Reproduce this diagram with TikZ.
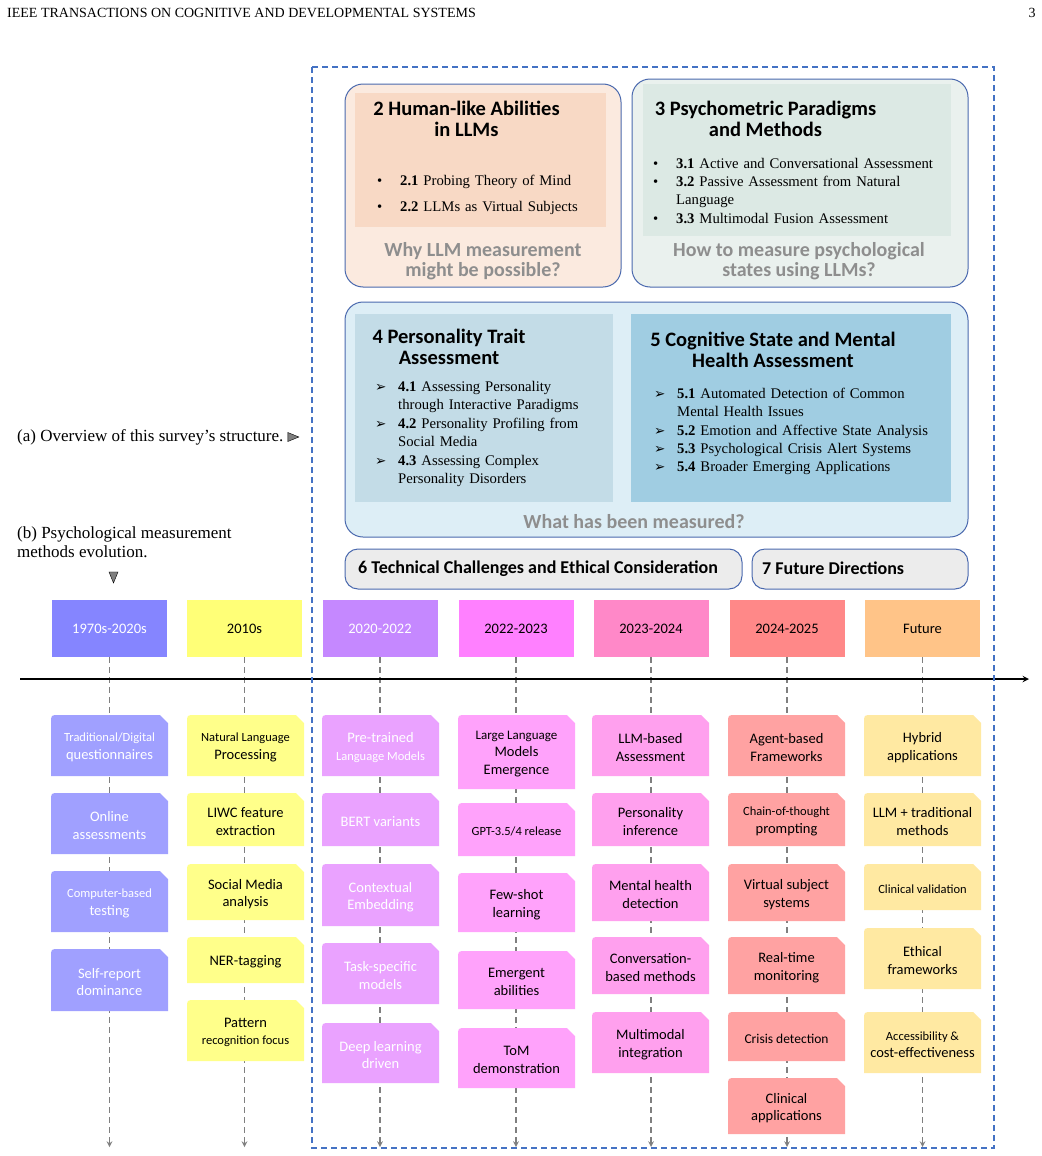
\documentclass[tikz,border=0pt]{standalone}
\usepackage{fontspec}
\setmainfont{Liberation Serif}
\setsansfont{Carlito}
\newfontfamily\dingfont{DejaVu Sans}
\usepackage{xcolor}
\usetikzlibrary{shapes,arrows,positioning,calc}

\definecolor{panelblue}{HTML}{4A69AE}
\definecolor{frameblue}{HTML}{4472C4}
\definecolor{peachOut}{HTML}{FBEADF}
\definecolor{peachIn}{HTML}{F8D9C5}
\definecolor{mintOut}{HTML}{EAF1EE}
\definecolor{mintIn}{HTML}{DCE9E4}
\definecolor{skyOut}{HTML}{DDEEF6}
\definecolor{traitIn}{HTML}{C3DCE7}
\definecolor{stateIn}{HTML}{A0CDE2}
\definecolor{stripgray}{HTML}{ECECEC}
\definecolor{qgray}{HTML}{8E8E8E}
\definecolor{trigray}{HTML}{7F7F7F}
\definecolor{linegray}{HTML}{7F7F7F}
\definecolor{yrA}{HTML}{8585FF}
\definecolor{yrB}{HTML}{FFFF77}
\definecolor{yrC}{HTML}{C588FF}
\definecolor{yrD}{HTML}{FF80FF}
\definecolor{yrE}{HTML}{FF88C8}
\definecolor{yrF}{HTML}{FF8888}
\definecolor{yrG}{HTML}{FFC488}
\definecolor{cardA}{HTML}{A0A0FF}
\definecolor{cardB}{HTML}{FFFF8A}
\definecolor{cardC}{HTML}{EAA2FF}
\definecolor{cardD}{HTML}{FFA2FB}
\definecolor{cardE}{HTML}{FFA0EE}
\definecolor{cardF}{HTML}{FFA2A2}
\definecolor{cardG}{HTML}{FFE9A2}

\newcommand{\fsz}[2]{\fontsize{#1}{#2}\selectfont}
\newcommand{\sm}{\fsz{12.5}{15}}
\newcommand{\bitem}[2]{\par\noindent\makebox[23pt][l]{\strut#1}\parbox[t]{\dimexpr\linewidth-23pt\relax}{\raggedright\strut #2\strut}}
\newcommand{\arr}{{\dingfont\fsz{13.5}{18}➢}}
% card: name, x, top, bottom, fill, text colour, text
\newcommand{\tlcard}[7]{%
  \fill[#5] ({#2-58.5},#4) -- ({#2-58.5},{#3+8}) .. controls ({#2-58.5},#3) .. ({#2-50.5},#3)
    -- ({#2+50.5},#3) -- ({#2+58.5},{#3+8}) -- ({#2+58.5},#4) -- cycle;
  \node[cardtxt, text=#6] (#1) at (#2,{(#3+#4)/2+2}) {#7};
}

\begin{document}
\begin{tikzpicture}[x=1pt, y=-1pt,
    panel/.style={draw=panelblue, line width=1pt, rounded corners=18pt, inner sep=0pt, outer sep=0pt, anchor=north west},
    inset/.style={inner sep=0pt, outer sep=0pt, anchor=north west},
    title/.style={font=\sffamily\bfseries\fsz{20.5}{21}, align=center, inner sep=0pt},
    question/.style={font=\sffamily\bfseries\fsz{20}{20.5}, text=qgray, align=center, inner sep=0pt},
    blist/.style={font=\fsz{14.7}{18}, align=left, inner sep=0pt, anchor=west},
    strip/.style={panel, rounded corners=13pt, fill=stripgray, minimum height=40pt},
    striptext/.style={font=\sffamily\bfseries\fsz{18}{20}, inner sep=0pt, anchor=west},
    lab/.style={font=\fsz{17}{19.5}, align=left, inner sep=0pt, anchor=west},
    tri/.style={isosceles triangle, isosceles triangle stretches, minimum width=9pt, minimum height=11pt, inner sep=0pt, fill=trigray, draw=black, line width=0.4pt},
    year/.style={font=\sffamily\fsz{14.5}{17}, minimum width=115pt, minimum height=57pt, inner sep=0pt},
    cardtxt/.style={font=\sffamily\fsz{14.5}{17.5}, align=center, inner sep=0pt},
    vline/.style={->, >=stealth, draw=linegray, line width=1.5pt, dash pattern=on 6pt off 4pt},
    axis/.style={->, >=stealth, line width=1.8pt},
    frame/.style={draw=frameblue, line width=1.2pt, dash pattern=on 6pt off 4pt}
]
\useasboundingbox (0,0) rectangle (1041,1156);
\fill[white] (0,0) rectangle (1041,1156);

% Running head
\node[font=\fsz{14}{16}, inner sep=0pt, anchor=west] (journal) at (7,12.5) {IEEE TRANSACTIONS ON COGNITIVE AND DEVELOPMENTAL SYSTEMS};
\node[font=\fsz{14}{16}, inner sep=0pt] (pageno) at (1032,12.5) {3};

% Section 2
\node[panel, fill=peachOut, minimum width=276pt, minimum height=203pt] (abilOut) at (345,84) {};
\node[inset, fill=peachIn, minimum width=251pt, minimum height=134pt] (abilIn) at (355,93) {};
\node[title] (abilTitle) at (466.5,119) {2 Human-like Abilities\\in LLMs};
\node[blist, text width=225pt] (abilList) at (377,192) {%
  \bitem{•}{\textbf{2.1} Probing Theory of Mind}\par\vspace{8pt}
  \bitem{•}{\textbf{2.2} LLMs as Virtual Subjects}};
\node[question] (abilQ) at (483,261) {Why LLM measurement\\might be possible?};

% Section 3
\node[panel, fill=mintOut, minimum width=336pt, minimum height=208pt] (psyOut) at (632,79) {};
\node[inset, fill=mintIn, minimum width=308pt, minimum height=152pt] (psyIn) at (643,84) {};
\node[title] (psyTitle) at (765.5,119) {3 Psychometric Paradigms\\and Methods};
\node[blist, text width=290pt] (psyList) at (653,190) {%
  \bitem{•}{\textbf{3.1} Active and Conversational Assessment}
  \bitem{•}{\textbf{3.2} Passive Assessment from Natural\newline Language}
  \bitem{•}{\textbf{3.3} Multimodal Fusion Assessment}};
\node[question] (psyQ) at (799,261) {How to measure psychological\\states using LLMs?};

% Sections 4 and 5
\node[panel, fill=skyOut, minimum width=623pt, minimum height=235pt] (measOut) at (345,302) {};
\node[inset, fill=traitIn, minimum width=258pt, minimum height=188pt] (traitIn) at (355,314) {};
\node[inset, fill=stateIn, minimum width=320pt, minimum height=188pt] (stateIn) at (631,314) {};
\node[title] (traitTitle) at (449,346.5) {4 Personality Trait\\Assessment};
\node[blist, text width=235pt] (traitList) at (375,431) {%
  \bitem{\arr}{\textbf{4.1} Assessing Personality\newline through Interactive Paradigms}
  \bitem{\arr}{\textbf{4.2} Personality Profiling from\newline Social Media}
  \bitem{\arr}{\textbf{4.3} Assessing Complex\newline Personality Disorders}};
\node[title] (stateTitle) at (773,349.5) {5 Cognitive State and Mental\\Health Assessment};
\node[blist, text width=290pt] (stateList) at (654,429) {%
  \bitem{\arr}{\textbf{5.1} Automated Detection of Common\newline Mental Health Issues}
  \bitem{\arr}{\textbf{5.2} Emotion and Affective State Analysis}
  \bitem{\arr}{\textbf{5.3} Psychological Crisis Alert Systems}
  \bitem{\arr}{\textbf{5.4} Broader Emerging Applications}};
\node[question] (measQ) at (634,521.5) {What has been measured?};

% Sections 6 and 7
\node[strip, minimum width=397pt] (challStrip) at (345,549) {};
\node[striptext] (challText) at (358,568.5) {6 Technical Challenges and Ethical Consideration};
\node[strip, minimum width=216pt] (futStrip) at (752,549) {};
\node[striptext] (futText) at (762,568.5) {7 Future Directions};

% Side labels
\node[lab] (labA) at (17,437) {(a) Overview of this survey’s structure.};
\node[tri, right=4pt of labA] (triA) {};
\node[lab] (labB) at (17,542) {(b) Psychological measurement\\methods evolution.};
\node[tri, shape border rotate=270] (triB) at (113.5,575) {};

% Timeline headers
\node[year, fill=yrA, text=white] (yrA) at (109.5,628.5) {1970s-2020s};
\node[year, fill=yrB] (yrB) at (244.5,628.5) {2010s};
\node[year, fill=yrC, text=white] (yrC) at (380,628.5) {2020-2022};
\node[year, fill=yrD] (yrD) at (516,628.5) {2022-2023};
\node[year, fill=yrE] (yrE) at (651,628.5) {2023-2024};
\node[year, fill=yrF] (yrF) at (787,628.5) {2024-2025};
\node[year, fill=yrG] (yrG) at (922.5,628.5) {Future};

% Drop lines
\foreach \n/\x in {A/109.5, B/244.5, C/380, D/516, E/651, F/787, G/922.5} {
  \coordinate (end\n) at (\x,1147);
  \draw[vline] (yr\n) -- (end\n);
}
\coordinate (axisL) at (20,679);
\coordinate (axisR) at (1029,679);
\draw[axis] (axisL) -- (axisR);

% 1970s-2020s
\tlcard{cardA1}{109.5}{715}{776}{cardA}{white}{{\sm Traditional/Digital}\\questionnaires}
\tlcard{cardA2}{109.5}{793}{854}{cardA}{white}{Online\\assessments}
\tlcard{cardA3}{109.5}{871}{932}{cardA}{white}{{\sm Computer-based}\\testing}
\tlcard{cardA4}{109.5}{949}{1011}{cardA}{white}{Self-report\\dominance}
% 2010s
\tlcard{cardB1}{245.5}{715}{776}{cardB}{black}{{\sm Natural Language}\\Processing}
\tlcard{cardB2}{245.5}{793}{846}{cardB}{black}{LIWC feature\\extraction}
\tlcard{cardB3}{245.5}{864}{920}{cardB}{black}{Social Media\\analysis}
\tlcard{cardB4}{245.5}{937}{983}{cardB}{black}{NER-tagging}
\tlcard{cardB5}{245.5}{1000}{1061}{cardB}{black}{Pattern\\{\sm recognition focus}}
% 2020-2022
\tlcard{cardC1}{380.5}{715}{776}{cardC}{white}{Pre-trained\\{\sm Language Models}}
\tlcard{cardC2}{380.5}{793}{846}{cardC}{white}{BERT variants}
\tlcard{cardC3}{380.5}{864}{926}{cardC}{white}{Contextual\\Embedding}
\tlcard{cardC4}{380.5}{943}{1004}{cardC}{white}{Task-specific\\models}
\tlcard{cardC5}{380.5}{1023}{1083}{cardC}{white}{Deep learning\\driven}
% 2022-2023
\tlcard{cardD1}{516.5}{715}{789}{cardD}{black}{\fsz{13}{16.5}Large Language\\Models\\Emergence}
\tlcard{cardD2}{516.5}{803}{856}{cardD}{black}{\sm GPT-3.5/4 release}
\tlcard{cardD3}{516.5}{873}{932}{cardD}{black}{Few-shot\\learning}
\tlcard{cardD4}{516.5}{951}{1009}{cardD}{black}{Emergent\\abilities}
\tlcard{cardD5}{516.5}{1028}{1088}{cardD}{black}{ToM\\demonstration}
% 2023-2024
\tlcard{cardE1}{650.5}{715}{776}{cardE}{black}{LLM-based\\Assessment}
\tlcard{cardE2}{650.5}{793}{846}{cardE}{black}{Personality\\inference}
\tlcard{cardE3}{650.5}{864}{921}{cardE}{black}{Mental health\\detection}
\tlcard{cardE4}{650.5}{937}{994}{cardE}{black}{Conversation-\\based methods}
\tlcard{cardE5}{650.5}{1012}{1073}{cardE}{black}{Multimodal\\integration}
% 2024-2025
\tlcard{cardF1}{786.5}{715}{776}{cardF}{black}{Agent-based\\Frameworks}
\tlcard{cardF2}{786.5}{793}{846}{cardF}{black}{{\sm Chain-of-thought}\\prompting}
\tlcard{cardF3}{786.5}{864}{921}{cardF}{black}{Virtual subject\\systems}
\tlcard{cardF4}{786.5}{937}{994}{cardF}{black}{Real-time\\monitoring}
\tlcard{cardF5}{786.5}{1012}{1061}{cardF}{black}{\fsz{13.5}{16}Crisis detection}
\tlcard{cardF6}{786.5}{1078}{1134}{cardF}{black}{Clinical\\applications}
% Future
\tlcard{cardG1}{922.5}{715}{776}{cardG}{black}{Hybrid\\applications}
\tlcard{cardG2}{922.5}{793}{846}{cardG}{black}{LLM + traditional\\methods}
\tlcard{cardG3}{922.5}{864}{910}{cardG}{black}{\sm Clinical validation}
\tlcard{cardG4}{922.5}{928}{989}{cardG}{black}{Ethical\\frameworks}
\tlcard{cardG5}{922.5}{1012}{1073}{cardG}{black}{\sm Accessibility \&\\cost-effectiveness}

% Survey frame
\draw[frame] (312,67) rectangle (994,1148);
\end{tikzpicture}
\end{document}
